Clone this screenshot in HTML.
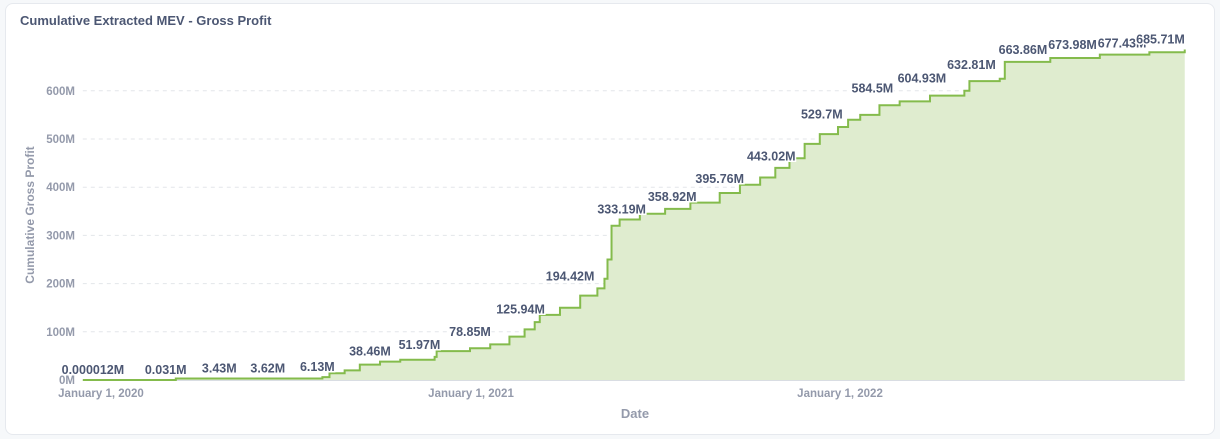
<!DOCTYPE html>
<html><head><meta charset="utf-8"><style>
body{margin:0;background:#f6f8fa;font-family:"Liberation Sans",sans-serif;}
#card{position:absolute;left:5px;top:3px;width:1208px;height:430px;background:#fff;border:1px solid #e6e9ee;border-radius:8px;}
svg{position:absolute;left:0;top:0;}
</style></head><body>
<div id="card"></div>
<svg id="chart" width="1220" height="439">
<text x="20" y="25" font-size="13" font-weight="bold" fill="#4c5773">Cumulative Extracted MEV - Gross Profit</text>
<text transform="translate(34,215) rotate(-90)" text-anchor="middle" font-size="12" font-weight="bold" fill="#949aab">Cumulative Gross Profit</text>
<text x="635" y="418" text-anchor="middle" font-size="13" font-weight="bold" fill="#949aab">Date</text>
<g id="grid"></g><g id="area"></g><g id="labels"></g>
</svg>
<script>
const days=[-18,73,74,219,226,241,256,276,296,330,332,365,385,404,419,429,434,454,474,491,498,501,505,513,533,558,583,612,632,652,667,681,696,711,729,739,751,770,790,820,854,859,889,894,939,988,1037,1072];
const values=[0,0.03,3,6,14,20,32,38,42,48,60,66,74,90,105,120,135,150,175,190,210,250,320,333,345,355,368,388,405,420,440,460,490,510,525,540,550,570,578,590,600,620,625,660,668,675,680,685.71];
const labelDays=[-8,64,117,165,214,266,315,365,415,464,515,565,612,663,713,763,812,861,912,961,1010,1048];
const labelValues=[0.000012,0.031,3.43,3.62,6.13,38.46,51.97,78.85,125.94,194.42,333.19,358.92,395.76,443.02,529.7,584.5,604.93,632.81,663.86,673.98,677.43,685.71];
const labelTexts=["0.000012M","0.031M","3.43M","3.62M","6.13M","38.46M","51.97M","78.85M","125.94M","194.42M","333.19M","358.92M","395.76M","443.02M","529.7M","584.5M","604.93M","632.81M","663.86M","673.98M","677.43M","685.71M"];
const yTicks=[0,100,200,300,400,500,600];
const yTickLabels=["0M","100M","200M","300M","400M","500M","600M"];
const xTickDays=[0,366,731];
const xTickLabels=["January 1, 2020","January 1, 2021","January 1, 2022"];
const NS="http://www.w3.org/2000/svg";
const X=d=>101+d*369/365;
const Y=v=>380-v*0.482;
function mk(tag,attrs,parent){const e=document.createElementNS(NS,tag);for(const k in attrs)e.setAttribute(k,attrs[k]);document.getElementById(parent).appendChild(e);return e;}
yTicks.forEach((t,i)=>{
 if(t>0){const l=mk('line',{x1:X(days[0]),x2:X(days[days.length-1]),y1:Y(t),y2:Y(t),stroke:'#e3e6ea','stroke-dasharray':'4,4'},'grid');
 
 }
 const tx=mk('text',{x:75,y:Y(t)+4,'text-anchor':'end','font-size':11.5,'font-weight':'bold',fill:'#949aab'},'grid');tx.textContent=yTickLabels[i];
 
 
});
const ax=mk('line',{x1:X(days[0]),x2:X(days[days.length-1]),y1:380.5,y2:380.5,stroke:'#d9dde3'},'grid');


xTickDays.forEach((d,i)=>{
 const tx=mk('text',{x:X(d),y:397,'text-anchor':'middle','font-size':11.5,'font-weight':'bold',fill:'#949aab'},'grid');tx.textContent=xTickLabels[i];
 
 
});
let p='M'+X(days[0])+','+Y(values[0]);
for(let i=1;i<days.length;i++){p+=' L'+X(days[i])+','+Y(values[i-1])+' L'+X(days[i])+','+Y(values[i]);}
const fill=mk('path',{d:p+' L'+X(days[days.length-1])+','+Y(0)+' L'+X(days[0])+','+Y(0)+' Z',fill:'#dfeccf'},'area');


const line=mk('path',{d:p,fill:'none',stroke:'#84bb4c','stroke-width':2},'area');


labelDays.forEach((d,i)=>{
 const tx=mk('text',{x:X(d),y:Y(labelValues[i])-6,'text-anchor':'middle','font-size':12.5,'font-weight':'bold',fill:'#4c5773',stroke:'#fff','stroke-width':3,'paint-order':'stroke'},'labels');
 tx.textContent=labelTexts[i];
 
 
});
</script>
</body></html>
